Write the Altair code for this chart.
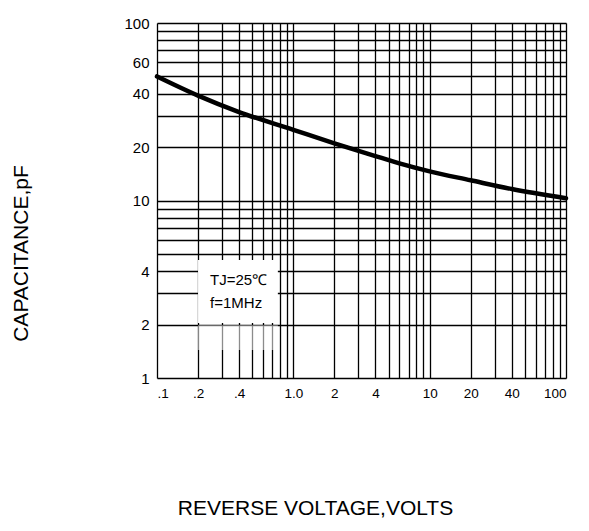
import altair as alt
import pandas as pd

# curve
volts = [0.1, 0.2, 0.4, 1.0, 2.0, 4.0, 6.0, 10.0, 20.0, 40.0, 100.0]
cap_pf = [50.0, 39.0, 31.5, 25.0, 21.0, 17.8, 16.2, 14.6, 13.0, 11.6, 10.3]

# grid lines
x_grid = [0.1, 0.2, 0.3, 0.4, 0.5, 0.6, 0.7, 0.8, 0.9,
          1, 2, 3, 4, 5, 6, 7, 8, 9,
          10, 20, 30, 40, 50, 60, 70, 80, 90, 100]
y_grid = [1, 2, 3, 4, 5, 6, 7, 8, 9,
          10, 20, 30, 40, 50, 60, 70, 80, 90, 100]

# labelled ticks
x_label_vals = [0.1, 0.2, 0.4, 1, 2, 4, 10, 20, 40, 100]
x_label_txt = [".1", ".2", ".4", "1.0", "2", "4", "10", "20", "40", "100"]
y_label_vals = [1, 2, 4, 10, 20, 40, 60, 100]
y_label_txt = ["1", "2", "4", "10", "20", "40", "60", "100"]

# annotation
note_lines = ["TJ=25\u2103", "f=1MHz"]
note_x = [0.245, 0.245]
note_y = [3.58, 2.66]
box_x = [0.2]
box_x2 = [0.77]
box_y = [2.04]
box_y2 = [4.62]
haze_y = [1.44]
haze_y2 = [1.98]

FONT = "Liberation Sans"


def label_expr(vals, txts):
    expr = "''"
    for v, t in reversed(list(zip(vals, txts))):
        expr = f"datum.value == {v} ? '{t}' : ({expr})"
    return expr


curve = pd.DataFrame({"v": volts, "c": cap_pf})
notes = pd.DataFrame({"x": note_x, "y": note_y, "t": note_lines})
box = pd.DataFrame({"x": box_x, "x2": box_x2, "y": box_y, "y2": box_y2})
haze = pd.DataFrame({"x": box_x, "x2": box_x2, "y": haze_y, "y2": haze_y2})

xscale = alt.Scale(type="log", domain=[0.1, 100], nice=False)
yscale = alt.Scale(type="log", domain=[1, 100], nice=False)

xaxis = alt.Axis(
    values=x_grid, labelExpr=label_expr(x_label_vals, x_label_txt),
    grid=True, gridColor="black", gridWidth=1.3, gridOpacity=1,
    ticks=False, domain=False, labelOverlap=False, labelBound=False,
    labelFont=FONT, labelFontSize=13.5, labelColor="black", labelPadding=8,
    title="REVERSE VOLTAGE,VOLTS", titleFont=FONT, titleFontSize=21,
    titleFontWeight="normal", titleColor="black",
    titleX=158, titleY=130, titleBaseline="middle", titleAlign="center",
)
yaxis = alt.Axis(
    values=y_grid, labelExpr=label_expr(y_label_vals, y_label_txt),
    grid=True, gridColor="black", gridWidth=1.3, gridOpacity=1,
    ticks=False, domain=False, labelOverlap=False, labelBound=False,
    labelFont=FONT, labelFontSize=15, labelColor="black", labelPadding=8,
    title="CAPACITANCE,pF", titleFont=FONT, titleFontSize=21,
    titleFontWeight="normal", titleColor="black",
    titleX=-136, titleY=230, titleBaseline="middle", titleAlign="center",
    titleAngle=270,
)

line = alt.Chart(curve).mark_line(
    color="black", strokeWidth=4.5, interpolate="monotone", strokeCap="round"
).encode(
    x=alt.X("v:Q", scale=xscale, axis=xaxis),
    y=alt.Y("c:Q", scale=yscale, axis=yaxis),
)

haze_rect = alt.Chart(haze).mark_rect(color="white", opacity=0.55).encode(
    x=alt.X("x:Q", scale=xscale), x2="x2:Q",
    y=alt.Y("y:Q", scale=yscale), y2="y2:Q",
)

box_rect = alt.Chart(box).mark_rect(color="white", opacity=1).encode(
    x=alt.X("x:Q", scale=xscale), x2="x2:Q",
    y=alt.Y("y:Q", scale=yscale), y2="y2:Q",
)

text = alt.Chart(notes).mark_text(
    font=FONT, fontSize=15, color="black", align="left", baseline="middle"
).encode(
    x=alt.X("x:Q", scale=xscale),
    y=alt.Y("y:Q", scale=yscale),
    text="t:N",
)

chart = alt.layer(haze_rect, box_rect, text, line).properties(
    width=409, height=355,
    padding={"left": 149, "top": 15, "right": 15, "bottom": 144},
    autosize=alt.AutoSizeParams(type="none"),
).configure_view(stroke=None).configure(background="white")

chart.save("out.html", embed_options={"renderer": "svg", "actions": False})
